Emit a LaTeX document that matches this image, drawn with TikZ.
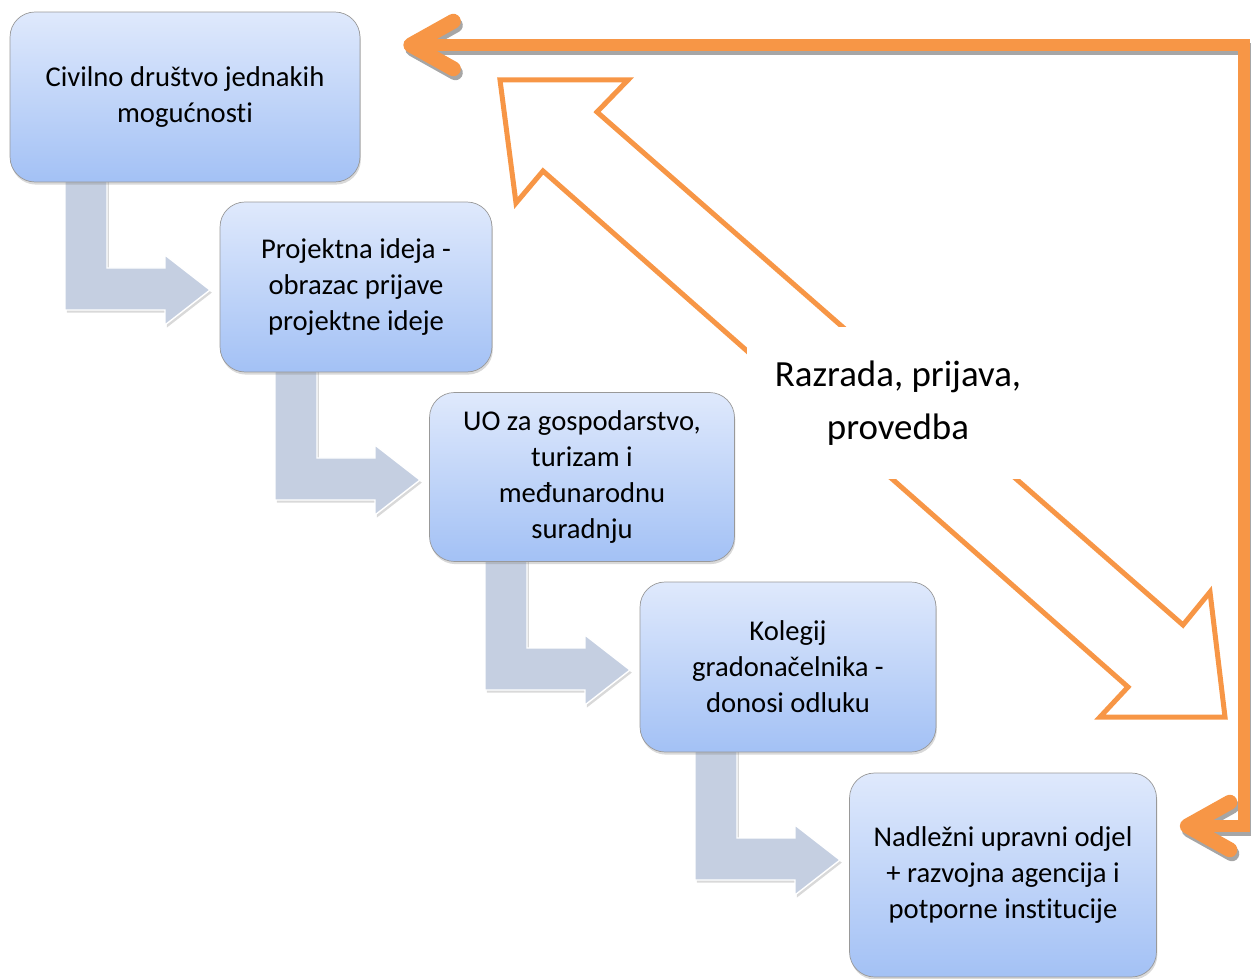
\documentclass[tikz,border=0pt]{standalone}
\usepackage{fontspec}
\setmainfont{Carlito}[Ligatures=NoCommon]
\usetikzlibrary{arrows.meta,shadows}
\definecolor{boxtop}{RGB}{223,233,252}
\definecolor{boxbottom}{RGB}{163,193,245}
\definecolor{bentfill}{RGB}{197,207,225}
\definecolor{orng}{RGB}{247,150,70}

\begin{document}
\begin{tikzpicture}[x=0.02cm,y=-0.02cm,
    bentarrow/.style={fill=bentfill,draw=white,thick,
        drop shadow={shadow xshift=1pt,shadow yshift=-1.5pt,opacity=0.3}}]
\useasboundingbox (0,0) rectangle (1251,979);
% grey bent arrows between the steps
\begin{scope}
    \path[bentarrow] (65,175) -- (107,175) -- (107,268) -- (165,268) -- (165,255)
        -- (210,290) -- (165,325) -- (165,310) -- (65,310) -- cycle;
    \path[bentarrow,shift={(210,190)}] (65,175) -- (107,175) -- (107,268) -- (165,268) -- (165,255)
        -- (210,290) -- (165,325) -- (165,310) -- (65,310) -- cycle;
    \path[bentarrow,shift={(420,380)}] (65,175) -- (107,175) -- (107,268) -- (165,268) -- (165,255)
        -- (210,290) -- (165,325) -- (165,310) -- (65,310) -- cycle;
    \path[bentarrow,shift={(630,570)}] (65,175) -- (107,175) -- (107,268) -- (165,268) -- (165,255)
        -- (210,290) -- (165,325) -- (165,310) -- (65,310) -- cycle;
\end{scope}
\begin{scope}[every node/.style={rounded corners=0.5cm,draw=gray!80,
              top color=boxtop,bottom color=boxbottom,align=center,
              font=\fontsize{16.3}{20.5}\selectfont,
              drop shadow={shadow xshift=0.5pt,shadow yshift=-1.5pt,opacity=0.3}}]
    \node[minimum width=7cm,minimum height=3.4cm] (B1) at (185,97) {Civilno društvo jednakih\\mogućnosti};
    \node[minimum width=5.44cm,minimum height=3.4cm] (B2) at (356,287) {Projektna ideja -\\obrazac prijave\\projektne ideje};
    \node[minimum width=6.1cm,minimum height=3.38cm] (B3) at (582,477) {UO za gospodarstvo,\\turizam i\\međunarodnu\\suradnju};
    \node[minimum width=5.92cm,minimum height=3.4cm] (B4) at (788,667) {Kolegij\\gradonačelnika -\\donosi odluku};
    \node[minimum width=6.14cm,minimum height=4.08cm] (B5) at (1003,875) {Nadležni upravni odjel\\+ razvojna agencija i\\potporne institucije};
\end{scope}
% hollow double arrow, covered in the middle by its label
\draw[orng,line width=0.1cm] (500,80) -- (628,80) -- (597,112) -- (1183,625) -- (1210,592)
    -- (1225,717) -- (1100,717) -- (1128,687) -- (543,171) -- (516,203) -- cycle;
\node[fill=white,align=center,font=\fontsize{21}{30}\selectfont,
      minimum width=6.04cm,minimum height=3.06cm] (T1) at (898,403) {Razrada, prijava,\\provedba};
% feedback arrow from the last step back to the first
\coordinate (E1) at ([xshift=0.86cm,yshift=1.04cm]B1.east);
\coordinate (E5) at ([xshift=0.46cm,yshift=0.98cm]B5.east);
\begin{scope}[>={Straight Barb[length=0.85cm,width=0.95cm,round,line width=0.3cm]}]
    \draw[gray!70,line width=0.24cm,line join=miter,<->,
          transform canvas={shift={(0.04cm,-0.08cm)}}] (E5) -- ++(64,0) |- (E1);
    \draw[orng,line width=0.24cm,line join=miter,<->] (E5) -- ++(64,0) |- (E1);
\end{scope}
\end{tikzpicture}
\end{document}
